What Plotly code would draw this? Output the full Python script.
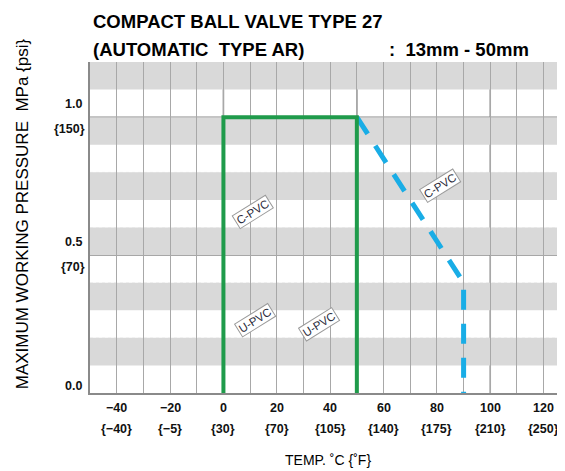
import plotly.graph_objects as go

# ---- data ----
temp_c_ticks = [-40, -20, 0, 20, 40, 60, 80, 100, 120]
temp_c_labels = ["\u221240", "\u221220", "0", "20", "40", "60", "80", "100", "120"]
temp_f_labels = ["{\u221240}", "{\u22125}", "{30}", "{70}", "{105}", "{140}", "{175}", "{210}", "{250}"]

mpa_ticks = [1.0, 0.5, 0.0]
mpa_labels = ["1.0", "0.5", "0.0"]
psi_labels = ["{150}", "{70}", ""]

band_lows = [0.1, 0.3, 0.5, 0.7, 0.9, 1.1]
band_height = 0.1
major_x_lines = [0, 50, 100]
major_y_lines = [0.5, 1.0]

upvc_x = [0, 0, 50, 50]
upvc_y = [0.0, 1.0, 1.0, 0.0]
cpvc_x = [50, 90, 90]
cpvc_y = [1.0, 0.4, 0.0]

label_text = ["C-PVC", "C-PVC", "U-PVC", "U-PVC"]
label_x = [11, 81, 12, 36]
label_y = [0.655, 0.752, 0.265, 0.25]

x_range = [-50, 128]
y_range = [0, 1.2]

FONT = "Liberation Sans, Arial, sans-serif"

fig = go.Figure()

fig.add_trace(go.Scatter(x=cpvc_x, y=cpvc_y, mode="lines",
                         line=dict(color="#19ade6", width=5, dash="20px,14px"),
                         hoverinfo="skip", showlegend=False))
fig.add_trace(go.Scatter(x=upvc_x, y=upvc_y, mode="lines",
                         line=dict(color="#1f9b4b", width=4),
                         hoverinfo="skip", showlegend=False))

shapes = []
for lo in band_lows:
    shapes.append(dict(type="rect", xref="x", yref="y", x0=x_range[0], x1=x_range[1],
                       y0=lo, y1=min(lo + band_height, y_range[1]),
                       fillcolor="#d9d9d9", line=dict(width=0), layer="below"))
    top = lo + band_height
    if top < min(major_y_lines + [y_range[1]]) - 1e-9 or (top < y_range[1] and top not in major_y_lines and top < 1.0):
        shapes.append(dict(type="line", xref="paper", yref="y", x0=0, x1=1, y0=top, y1=top,
                           line=dict(color="#f4f4f4", width=1, dash="dot"), layer="below"))
for xv in major_x_lines:
    shapes.append(dict(type="line", xref="x", yref="paper", x0=xv, x1=xv, y0=0, y1=1,
                       line=dict(color="#808080", width=1.5), layer="between"))
for yv in major_y_lines:
    shapes.append(dict(type="line", xref="paper", yref="y", x0=0, x1=1, y0=yv, y1=yv,
                       line=dict(color="#8a8a8a", width=1.5), layer="between"))

TICKFONT = dict(family=FONT, size=12.5, color="#111")
annotations = []
# x tick labels (two rows)
for xv, c, f in zip(temp_c_ticks, temp_c_labels, temp_f_labels):
    annotations.append(dict(x=xv, y=0, xref="x", yref="paper", text="<b>%s</b>" % c,
                            showarrow=False, yanchor="middle", yshift=-15, font=TICKFONT))
    annotations.append(dict(x=xv, y=0, xref="x", yref="paper", text="<b>%s</b>" % f,
                            showarrow=False, yanchor="middle", yshift=-36, font=TICKFONT))
# y tick labels
for yv, m, p in zip(mpa_ticks, mpa_labels, psi_labels):
    annotations.append(dict(x=0, y=yv, xref="paper", yref="y", text="<b>%s</b>" % m,
                            showarrow=False, xanchor="right", yanchor="middle",
                            xshift=-6, yshift=13 if yv > 0 else 7, font=TICKFONT))
    if p:
        annotations.append(dict(x=0, y=yv, xref="paper", yref="y", text="<b>%s</b>" % p,
                                showarrow=False, xanchor="right", yanchor="middle",
                                xshift=-3, yshift=-12, font=TICKFONT))
# series labels
for t, lx, ly in zip(label_text, label_x, label_y):
    annotations.append(dict(x=lx, y=ly, xref="x", yref="y", text=t, showarrow=False,
                            textangle=-32, bgcolor="white", bordercolor="#9a9a9a",
                            borderwidth=1, borderpad=1,
                            font=dict(family=FONT, size=11.5, color="#2a2a3a")))
# titles
TITLEFONT = dict(family=FONT, size=18.5, color="#000")
annotations.append(dict(x=0, y=1, xref="paper", yref="paper", text="<b>COMPACT BALL VALVE TYPE 27</b>",
                        showarrow=False, xanchor="left", yanchor="middle", xshift=1, yshift=41,
                        font=TITLEFONT))
annotations.append(dict(x=0, y=1, xref="paper", yref="paper", text="<b>(AUTOMATIC  TYPE AR)</b>",
                        showarrow=False, xanchor="left", yanchor="middle", xshift=1, yshift=13,
                        font=TITLEFONT))
annotations.append(dict(x=0, y=1, xref="paper", yref="paper", text="<b>:  13mm - 50mm</b>",
                        showarrow=False, xanchor="left", yanchor="middle", xshift=297, yshift=13,
                        font=TITLEFONT))
annotations.append(dict(x=0.5, y=0, xref="paper", yref="paper", text="TEMP. \u02daC {\u02daF}",
                        showarrow=False, xanchor="center", yanchor="middle", yshift=-67,
                        font=dict(family=FONT, size=14, color="#000")))
annotations.append(dict(x=0, y=0.54, xref="paper", yref="paper",
                        text="MAXIMUM WORKING PRESSURE  MPa {psi}",
                        showarrow=False, textangle=-90, xanchor="center", yanchor="middle", xshift=-68,
                        font=dict(family=FONT, size=17, color="#000")))

# page body adds an 8px offset; size figure so plot lands where the reference has it
fig.update_layout(
    width=557, height=463,
    margin=dict(l=82, r=0, t=54, b=78),
    paper_bgcolor="white", plot_bgcolor="white",
    shapes=shapes, annotations=annotations,
    showlegend=False,
    xaxis=dict(range=x_range, showticklabels=False, ticks="", tick0=-50, dtick=10,
               showgrid=True, gridcolor="#a8a8a8", gridwidth=1, zeroline=False,
               showline=True, linecolor="#8a8a8a", linewidth=1.5, fixedrange=True),
    yaxis=dict(range=y_range, showticklabels=False, ticks="", showgrid=False, zeroline=False,
               showline=True, linecolor="#8a8a8a", linewidth=1.5, fixedrange=True),
)

fig.write_html("out.html")
